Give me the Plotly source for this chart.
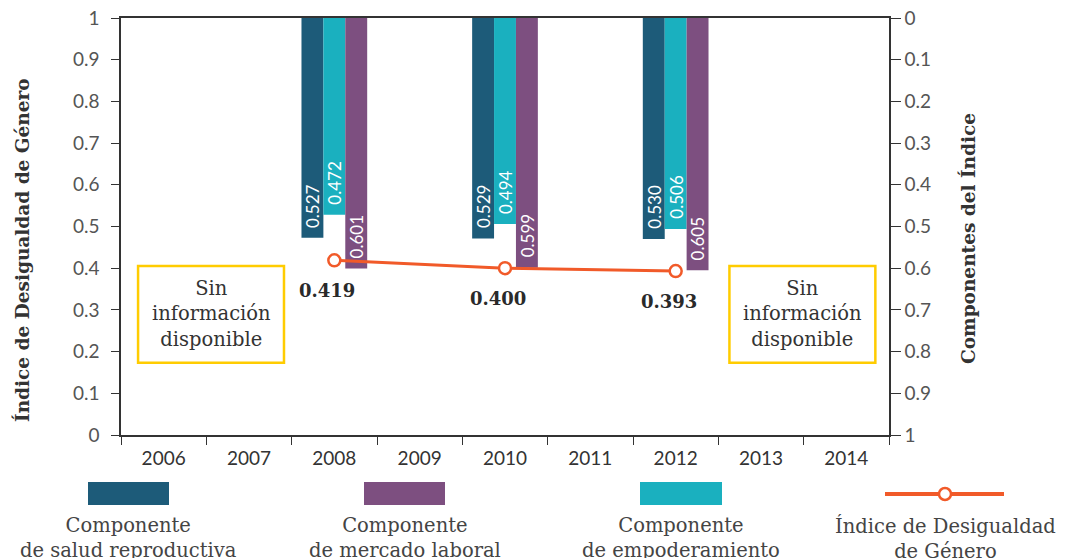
import plotly.graph_objects as go

# Datos
years = ['2006', '2007', '2008', '2009', '2010', '2011', '2012', '2013', '2014']
data_years = ['2008', '2010', '2012']
salud = [0.527, 0.529, 0.530]
empoderamiento = [0.472, 0.494, 0.506]
mercado = [0.601, 0.599, 0.605]
idg = [0.419, 0.400, 0.393]
y_ticks = [0, 0.1, 0.2, 0.3, 0.4, 0.5, 0.6, 0.7, 0.8, 0.9, 1]
y_ticktext = ['0', '0.1', '0.2', '0.3', '0.4', '0.5', '0.6', '0.7', '0.8', '0.9', '1']

C_SALUD = '#1d5b79'
C_EMPOD = '#1ab0bf'
C_MERC = '#7d4f80'
C_IDG = '#f15a29'
C_BOX = '#ffcc00'

SANS = 'Lato, sans-serif'
SERIF = 'DejaVu Serif, serif'

fig = go.Figure()
annotations = []

# posicion (indice de categoria) de cada año con datos
x_idx = [years.index(y) for y in data_years]

# barras de componentes (eje invertido a la derecha)
series = [(salud, C_SALUD, -22), (empoderamiento, C_EMPOD, 0), (mercado, C_MERC, 22)]
for vals, col, shift in series:
    fig.add_trace(go.Bar(
        x=data_years, y=vals, base=0, yaxis='y',
        marker_color=col, marker_line_width=0,
        showlegend=False, hoverinfo='skip'
    ))
    # etiquetas verticales dentro de la barra
    for xi, v in zip(x_idx, vals):
        annotations.append(dict(
            x=xi, y=v, xref='x', yref='y', text=f'{v:.3f}',
            textangle=-90, showarrow=False, xshift=shift, yanchor='bottom', yshift=8,
            font=dict(family=SANS, size=17, color='white')
        ))

# linea del indice
fig.add_trace(go.Scatter(
    x=data_years, y=idg, yaxis='y2', mode='lines+markers',
    line=dict(color=C_IDG, width=3),
    marker=dict(size=12, color='white', line=dict(color=C_IDG, width=2.5)),
    showlegend=False, hoverinfo='skip'
))

for xi, v in zip(x_idx, idg):
    annotations.append(dict(
        x=xi, y=v, xref='x', yref='y2', text=f'<b>{v:.3f}</b>',
        showarrow=False, yshift=-30, xshift=-7,
        font=dict(family=SERIF, size=18, color='#2a2a2a')
    ))

# cajas "Sin información disponible"
shapes = []
for x0, x1 in [(-0.30, 1.41), (6.63, 8.34)]:
    shapes.append(dict(type='rect', xref='x', yref='y2', x0=x0, x1=x1, y0=0.173, y1=0.405,
                       line=dict(color=C_BOX, width=2.5), fillcolor='white', layer='above'))
    annotations.append(dict(
        x=(x0 + x1) / 2, y=0.289, xref='x', yref='y2',
        text='Sin<br>información<br>disponible', showarrow=False,
        font=dict(family=SERIF, size=19.5, color='#333333')
    ))


def px(xp):
    return (xp - 121) / 768


def py(yp):
    return (435 - yp) / 417


# titulos de ejes
annotations.append(dict(x=px(22), xref='paper', xanchor='center', y=py(250), yref='paper',
                        text='<b>Índice de Desigualdad de Género</b>', textangle=-90, showarrow=False,
                        font=dict(family=SERIF, size=18.5, color='#333333')))
annotations.append(dict(x=px(968), xref='paper', xanchor='center', y=py(239), yref='paper',
                        text='<b>Componentes del Índice</b>', textangle=-90, showarrow=False,
                        font=dict(family=SERIF, size=18.5, color='#333333')))

# leyenda manual
legend_items = [
    ('Componente<br>de salud reproductiva', C_SALUD, 88, 169),
    ('Componente<br>de mercado laboral', C_MERC, 364, 445),
    ('Componente<br>de empoderamiento', C_EMPOD, 640, 722),
]
for label, col, a, b in legend_items:
    shapes.append(dict(type='rect', xref='paper', yref='paper', x0=px(a), x1=px(b),
                       y0=py(482), y1=py(505), fillcolor=col, line_width=0))
    annotations.append(dict(x=px((a + b) / 2), y=py(512), xref='paper', yref='paper',
                            xanchor='center', yanchor='top', text=label, showarrow=False,
                            font=dict(family=SERIF, size=19.5, color='#444444')))
shapes.append(dict(type='line', xref='paper', yref='paper', x0=px(885), x1=px(1004),
                   y0=py(494), y1=py(494), line=dict(color=C_IDG, width=4)))
shapes.append(dict(type='circle', xref='paper', yref='paper', xsizemode='pixel', ysizemode='pixel',
                   xanchor=px(945), yanchor=py(494), x0=-6, x1=6, y0=-6, y1=6,
                   fillcolor='white', line=dict(color=C_IDG, width=2.5)))
annotations.append(dict(x=px(945), y=py(512), xref='paper', yref='paper',
                        xanchor='center', yanchor='top', text='Índice de Desigualdad<br>de Género',
                        showarrow=False, font=dict(family=SERIF, size=19.5, color='#444444')))

axis_col = '#333333'
fig.update_layout(
    width=1070, height=558,
    margin=dict(l=121, r=181, t=18, b=123, autoexpand=False),
    plot_bgcolor='white', paper_bgcolor='white',
    barmode='group', bargap=0.23, bargroupgap=0,
    xaxis=dict(type='category', categoryorder='array', categoryarray=years, automargin=False,
               range=[-0.5, 8.5], tickson='boundaries', ticks='outside', ticklen=8,
               ticklabelstandoff=5,
               tickcolor=axis_col, showline=True, linecolor=axis_col, linewidth=1.5,
               mirror=True, showgrid=False, tickfont=dict(family=SANS, size=19, color='#333333')),
    yaxis=dict(side='right', range=[1, 0], tickvals=y_ticks, ticktext=y_ticktext, automargin=False,
               ticks='outside', ticklen=10, tickcolor=axis_col, showline=True,
               linecolor=axis_col, linewidth=1.5, showgrid=False, zeroline=False,
               tickfont=dict(family=SANS, size=19, color='#555555')),
    yaxis2=dict(side='left', overlaying='y', range=[0, 1], tickvals=y_ticks, ticktext=y_ticktext,
                automargin=False, ticks='outside', ticklen=8, ticklabelstandoff=8,
                tickcolor=axis_col, showline=True,
                linecolor=axis_col, linewidth=1.5, showgrid=False, zeroline=False,
                tickfont=dict(family=SANS, size=19, color='#555555')),
    shapes=shapes,
    annotations=annotations,
)

# quitar el margen por defecto del body para que la figura empiece en (0, 0)
fig.write_html('out.html', config={'displayModeBar': False},
               post_script="document.body.style.margin='0px';")
